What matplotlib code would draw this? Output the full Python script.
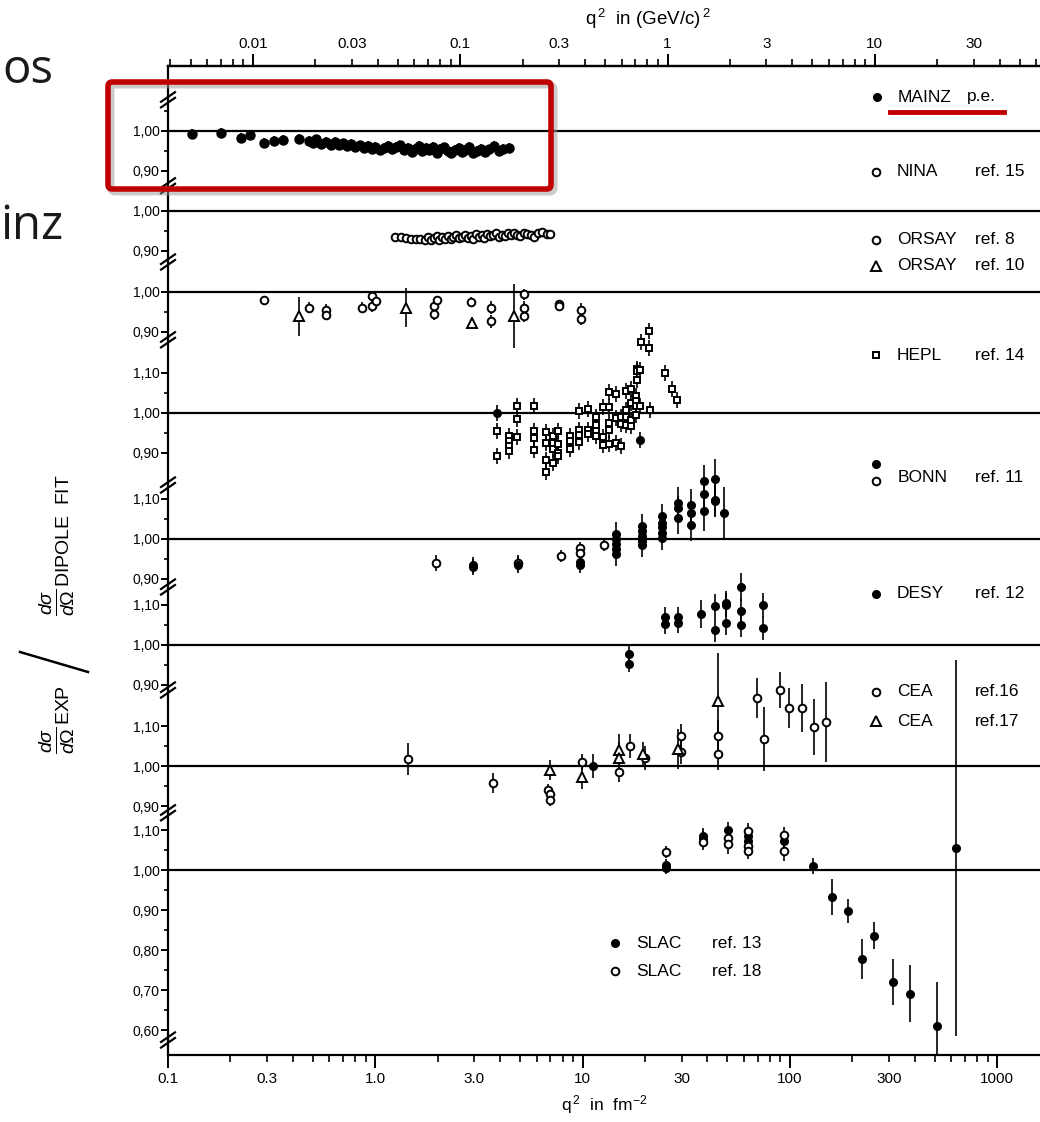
import matplotlib.pyplot as plt
import numpy as np
from matplotlib.patches import FancyBboxPatch
from matplotlib.lines import Line2D
from matplotlib.ticker import FixedLocator, FixedFormatter

plt.rcParams['font.family'] = ['Liberation Sans', 'DejaVu Sans']
plt.rcParams['mathtext.fontset'] = 'custom'
plt.rcParams['mathtext.rm'] = 'Liberation Sans'
plt.rcParams['mathtext.it'] = 'Liberation Sans:italic'

# ---- data: q^2 in fm^-2, ratio to dipole fit ----
mainz_q2 = [0.13, 0.18, 0.225, 0.25, 0.29, 0.325, 0.36, 0.43,
            0.48, 0.50, 0.52, 0.55, 0.58, 0.61, 0.64, 0.67, 0.70, 0.73, 0.76, 0.80,
            0.84, 0.88, 0.92, 0.96, 1.00, 1.05, 1.10, 1.15, 1.20, 1.26, 1.32, 1.38,
            1.44, 1.50, 1.56, 1.62, 1.68, 1.75, 1.82, 1.90, 1.98, 2.06, 2.15, 2.24,
            2.33, 2.42, 2.52, 2.62, 2.72, 2.83, 2.95, 3.08, 3.22, 3.38, 3.55, 3.75, 3.95, 4.15, 4.40]
mainz_val = [0.992, 0.995, 0.982, 0.990, 0.970, 0.976, 0.978, 0.980,
             0.975, 0.970, 0.979, 0.968, 0.973, 0.966, 0.972, 0.964, 0.969, 0.962, 0.967, 0.960,
             0.964, 0.958, 0.962, 0.955, 0.960, 0.952, 0.957, 0.962, 0.955, 0.960, 0.964, 0.952,
             0.958, 0.948, 0.956, 0.962, 0.950, 0.957, 0.953, 0.961, 0.946, 0.955, 0.959, 0.950,
             0.944, 0.953, 0.958, 0.947, 0.952, 0.960, 0.945, 0.951, 0.956, 0.948, 0.954, 0.962, 0.950, 0.955, 0.958]

nina_q2 = [1.25, 1.33, 1.41, 1.49, 1.57, 1.65, 1.73, 1.80, 1.86, 1.92, 1.98, 2.04,
           2.10, 2.17, 2.24, 2.31, 2.38, 2.46, 2.54, 2.62, 2.70, 2.79, 2.88, 2.97,
           3.06, 3.16, 3.26, 3.36, 3.47, 3.58, 3.70, 3.82, 3.95, 4.08, 4.22, 4.36,
           4.50, 4.66, 4.82, 5.00, 5.20, 5.40, 5.62, 5.85, 6.10, 6.40, 6.70, 7.00]
nina_val = [0.935, 0.934, 0.933, 0.931, 0.930, 0.929, 0.928, 0.936, 0.928, 0.933, 0.938, 0.927,
            0.935, 0.930, 0.937, 0.929, 0.934, 0.940, 0.932, 0.936, 0.941, 0.933, 0.938, 0.930,
            0.942, 0.936, 0.939, 0.933, 0.943, 0.937, 0.940, 0.946, 0.935, 0.941, 0.938, 0.944,
            0.939, 0.946, 0.941, 0.937, 0.946, 0.942, 0.939, 0.935, 0.944, 0.947, 0.943, 0.943]

orsay8_q2 = [0.29, 0.48, 0.58, 0.58, 0.86, 0.96, 0.96, 1.01, 1.92, 1.92, 1.98,
             2.90, 3.62, 3.62, 5.21, 5.21, 5.21, 7.69, 7.69, 9.83, 9.83]
orsay8_val = [0.979, 0.961, 0.956, 0.943, 0.961, 0.989, 0.964, 0.977, 0.964, 0.944, 0.979,
              0.975, 0.961, 0.927, 0.994, 0.961, 0.941, 0.969, 0.964, 0.956, 0.933]
orsay8_err = [0.012, 0.014, 0.014, 0.014, 0.014, 0.012, 0.014, 0.012, 0.014, 0.014, 0.012,
              0.012, 0.016, 0.016, 0.014, 0.016, 0.016, 0.012, 0.012, 0.016, 0.016]
orsay10_q2 = [0.43, 1.41, 2.93, 4.67]
orsay10_val = [0.939, 0.961, 0.922, 0.940]
orsay10_err = [0.048, 0.048, 0.015, 0.080]

hepl_q2 = [3.87, 3.87, 4.42, 4.42, 4.42, 4.42, 4.83, 4.83, 4.83,
           5.83, 5.83, 5.83, 5.83, 6.66, 6.66, 6.66, 6.66, 7.20, 7.20, 7.20, 7.20,
           7.61, 7.61, 7.61, 7.61, 8.69, 8.69, 8.69, 9.61, 9.61, 9.61, 9.61,
           10.6, 10.6, 10.6, 11.6, 11.6, 11.6, 11.6, 12.5, 12.5, 12.5,
           13.4, 13.4, 13.4, 13.4, 13.4, 14.5, 14.5, 14.5, 15.3, 15.3, 15.3,
           16.2, 16.2, 16.2, 16.2, 17.1, 17.1, 17.1, 17.1, 18.1, 18.1, 18.1, 18.1,
           18.3, 18.3, 18.3, 18.9, 18.9, 19.1, 20.9, 20.9, 21.1, 24.9, 27.0, 28.5]
hepl_val = [0.954, 0.892, 0.943, 0.929, 0.917, 0.904, 1.018, 0.985, 0.940,
            1.017, 0.954, 0.938, 0.908, 0.952, 0.925, 0.882, 0.852, 0.943, 0.925, 0.910, 0.875,
            0.954, 0.923, 0.900, 0.892, 0.942, 0.929, 0.910, 1.004, 0.958, 0.946, 0.927,
            1.010, 0.958, 0.948, 0.990, 0.971, 0.954, 0.942, 1.015, 0.940, 0.921,
            1.052, 1.015, 0.975, 0.958, 0.923, 1.047, 0.988, 0.925, 0.990, 0.973, 0.918,
            1.056, 1.008, 0.990, 0.971, 1.060, 1.025, 0.983, 0.967, 1.042, 1.029, 1.018, 0.996,
            1.110, 1.104, 1.082, 1.107, 1.018, 1.177, 1.204, 1.163, 1.008, 1.100, 1.061, 1.032]
hepl_fill_q2 = [3.87, 18.9]
hepl_fill_val = [1.000, 0.933]

bonn_open_q2 = [1.96, 4.88, 7.87, 9.71, 9.71, 12.7]
bonn_open_val = [0.939, 0.939, 0.957, 0.978, 0.965, 0.986]
bonn_open_err = [0.020, 0.020, 0.015, 0.015, 0.015, 0.015]
bonn_fill_q2 = [2.96, 2.96, 4.88, 9.71, 9.71,
                14.5, 14.5, 14.5, 14.5, 14.5, 19.4, 19.4, 19.4, 19.4, 19.4,
                24.2, 24.2, 24.2, 24.2, 24.2, 28.8, 28.8, 28.8, 33.3, 33.3, 33.3,
                38.5, 38.5, 38.5, 43.5, 43.5, 43.5, 48.1]
bonn_fill_val = [0.935, 0.930, 0.936, 0.943, 0.935,
                 1.012, 1.000, 0.988, 0.976, 0.963, 1.033, 1.020, 1.008, 0.996, 0.986,
                 1.057, 1.041, 1.029, 1.016, 1.002, 1.090, 1.078, 1.053, 1.086, 1.065, 1.035,
                 1.144, 1.112, 1.069, 1.149, 1.098, 1.094, 1.065]
bonn_fill_err = [0.02, 0.02, 0.02, 0.02, 0.02,
                 0.03, 0.02, 0.02, 0.02, 0.03, 0.03, 0.02, 0.02, 0.02, 0.03,
                 0.03, 0.02, 0.02, 0.02, 0.03, 0.04, 0.03, 0.04, 0.04, 0.03, 0.04,
                 0.04, 0.04, 0.05, 0.05, 0.04, 0.04, 0.065]

desy_q2 = [16.7, 16.7, 24.9, 24.9, 28.8, 28.8, 37.3, 43.5, 43.5,
           49.2, 49.2, 49.2, 58.1, 58.1, 58.1, 74.1, 74.1]
desy_val = [0.978, 0.952, 1.069, 1.053, 1.069, 1.055, 1.078, 1.098, 1.037,
            1.106, 1.100, 1.055, 1.144, 1.086, 1.049, 1.100, 1.043]
desy_err = [0.02, 0.02, 0.025, 0.025, 0.025, 0.025, 0.035, 0.03, 0.03,
            0.03, 0.03, 0.03, 0.035, 0.03, 0.03, 0.03, 0.03]

cea16_q2 = [1.44, 3.70, 6.81, 6.96, 6.96, 9.93, 15.0, 16.9, 20.0, 29.8,
            29.8, 45.0, 45.0, 69.4, 75.0, 89.6, 99.0, 114, 131, 149]
cea16_val = [1.017, 0.958, 0.941, 0.929, 0.915, 1.011, 0.984, 1.051, 1.019, 1.076,
             1.035, 1.074, 1.029, 1.171, 1.067, 1.191, 1.145, 1.146, 1.098, 1.110]
cea16_err = [0.04, 0.025, 0.015, 0.015, 0.015, 0.02, 0.025, 0.03, 0.03, 0.03,
             0.03, 0.04, 0.04, 0.05, 0.08, 0.045, 0.05, 0.06, 0.07, 0.10]
cea17_q2 = [6.96, 9.93, 15.0, 15.0, 19.6, 28.8, 45.0]
cea17_val = [0.989, 0.972, 1.041, 1.021, 1.029, 1.043, 1.163]
cea17_err = [0.025, 0.03, 0.04, 0.04, 0.03, 0.05, 0.12]
cea_fill_q2 = [11.2]
cea_fill_val = [1.000]

slac13_q2 = [25.3, 25.3, 37.9, 37.9, 50.3, 62.8, 62.8, 93.7, 129, 160, 191, 223, 255, 314, 379, 513, 632]
slac13_val = [1.012, 1.006, 1.084, 1.077, 1.100, 1.086, 1.073, 1.073, 1.010, 0.933, 0.897,
              0.777, 0.836, 0.720, 0.691, 0.611, 1.056]
slac13_err = [0.015, 0.015, 0.02, 0.02, 0.02, 0.02, 0.02, 0.02, 0.02, 0.045, 0.03,
              0.05, 0.033, 0.057, 0.072, 0.11, 0.47]
slac18_q2 = [25.3, 37.9, 50.3, 50.3, 62.8, 62.8, 62.8, 93.7, 93.7]
slac18_val = [1.044, 1.069, 1.081, 1.065, 1.097, 1.060, 1.048, 1.087, 1.048]
slac18_err = [0.015, 0.02, 0.025, 0.025, 0.02, 0.02, 0.02, 0.02, 0.025]

# y ticks for every panel
panel_ticks = {
    'MAINZ': [1.0, 0.9], 'NINA': [1.0, 0.9], 'ORSAY': [1.0, 0.9],
    'HEPL': [1.1, 1.0, 0.9], 'BONN': [1.1, 1.0, 0.9], 'DESY': [1.1, 1.0, 0.9],
    'CEA': [1.1, 1.0, 0.9], 'SLAC': [1.1, 1.0, 0.9, 0.8, 0.7, 0.6]}
panel_minor = {
    'MAINZ': [1.05, 0.95], 'NINA': [0.95], 'ORSAY': [0.95],
    'HEPL': [1.05, 0.95], 'BONN': [1.05, 0.95], 'DESY': [1.05, 0.95],
    'CEA': [1.05, 0.95], 'SLAC': [1.05, 0.95, 0.85, 0.75, 0.65]}

# ---- layout ----
W, H = 1040, 1122
# where each panel sits on the common vertical axis (SLAC panel not shifted)
shift = {'MAINZ': 1.8475, 'NINA': 1.6475, 'ORSAY': 1.445, 'HEPL': 1.1425,
         'BONN': 0.8275, 'DESY': 0.5625, 'CEA': 0.26, 'SLAC': 0.0}
breaks = [('MAINZ', 1.078), ('NINA', 1.063), ('ORSAY', 1.075), ('HEPL', 1.183),
          ('BONN', 1.135), ('DESY', 1.145), ('CEA', 1.19), ('SLAC', 1.143), ('SLAC', 0.575)]
GEV2 = 25.68  # fm^-2 per (GeV/c)^2


def fx(px):
    return px / W


def fy(py):
    return 1 - py / H


fig = plt.figure(figsize=(W / 100, H / 100), dpi=100)
ax = fig.add_axes([fx(168), fy(1055), fx(1040) - fx(168), fy(66) - fy(1055)])
ax.set_xscale('log')
ax.set_xlim(0.1, 10 ** (-1 + (1040 - 168) / 207.3))
ax.set_ylim(0.5375, 3.01)
ax.spines['right'].set_visible(False)
for s in ['left', 'bottom', 'top']:
    ax.spines[s].set_linewidth(1.6)

for p in shift:
    ax.axhline(1.0 + shift[p], color='k', lw=1.6, zorder=1)

filled = dict(marker='o', ms=5.5, mfc='k', mec='k', mew=1)
ocirc = dict(marker='o', ms=5.5, mfc='white', mec='k', mew=1.4)
otri = dict(marker='^', ms=6.5, mfc='white', mec='k', mew=1.4)
osq = dict(marker='s', ms=5, mfc='white', mec='k', mew=1.4)


def put(q2, val, err, panel, style):
    y = np.asarray(val) + shift[panel]
    if err is not None:
        ax.errorbar(q2, y, yerr=err, fmt='none', ecolor='k', elinewidth=1.2, capsize=0, zorder=2)
    ax.plot(q2, y, linestyle='none', zorder=3, **style)


put(mainz_q2, mainz_val, 0.012, 'MAINZ', dict(filled, ms=6.5))
put(nina_q2, nina_val, None, 'NINA', ocirc)
put(orsay8_q2, orsay8_val, orsay8_err, 'ORSAY', ocirc)
put(orsay10_q2, orsay10_val, orsay10_err, 'ORSAY', otri)
put(hepl_q2, hepl_val, 0.02, 'HEPL', osq)
put(hepl_fill_q2, hepl_fill_val, 0.02, 'HEPL', filled)
put(bonn_open_q2, bonn_open_val, bonn_open_err, 'BONN', ocirc)
put(bonn_fill_q2, bonn_fill_val, bonn_fill_err, 'BONN', filled)
put(desy_q2, desy_val, desy_err, 'DESY', filled)
put(cea16_q2, cea16_val, cea16_err, 'CEA', ocirc)
put(cea17_q2, cea17_val, cea17_err, 'CEA', otri)
put(cea_fill_q2, cea_fill_val, 0.03, 'CEA', filled)
put(slac13_q2, slac13_val, slac13_err, 'SLAC', filled)
put(slac18_q2, slac18_val, slac18_err, 'SLAC', ocirc)

# left axis ticks
ypos, ylab, ymin = [], [], []
for p in panel_ticks:
    for t in panel_ticks[p]:
        ypos.append(t + shift[p])
        ylab.append(f'{t:.2f}'.replace('.', ','))
    for t in panel_minor[p]:
        ymin.append(t + shift[p])
ax.yaxis.set_major_locator(FixedLocator(ypos))
ax.yaxis.set_major_formatter(FixedFormatter(ylab))
ax.yaxis.set_minor_locator(FixedLocator(ymin))
ax.tick_params(axis='y', which='major', direction='out', length=5, width=1.4, labelsize=10, pad=1)
ax.tick_params(axis='y', which='minor', direction='out', length=3, width=1.2)

# bottom axis ticks
dec = [0.1, 1, 10, 100, 1000]
ax.xaxis.set_major_locator(FixedLocator(dec))
ax.xaxis.set_major_formatter(FixedFormatter(['0.1', '1.0', '10', '100', '1000']))
bmin = [m * d for d in dec for m in range(2, 10)]
ax.xaxis.set_minor_locator(FixedLocator(bmin))
ax.xaxis.set_minor_formatter(FixedFormatter(
    [{0.3: '0.3', 3: '3.0', 30: '30', 300: '300'}.get(round(v, 6), '') for v in bmin]))
ax.tick_params(axis='x', which='major', direction='out', length=9, width=1.4, labelsize=11, pad=3)
ax.tick_params(axis='x', which='minor', direction='out', length=5, width=1.2, labelsize=11, pad=7)
ax.set_xlabel(r'q$^{\,2}$  in  fm$^{-2}$', fontsize=12.5, labelpad=5)

# top axis in (GeV/c)^2
top = ax.secondary_xaxis('top', functions=(lambda q: q / GEV2, lambda g: g * GEV2))
tdec = [0.001, 0.01, 0.1, 1, 10]
top.xaxis.set_major_locator(FixedLocator([0.01, 0.1, 1, 10]))
top.xaxis.set_major_formatter(FixedFormatter(['0.01', '0.1', '1', '10']))
tmin = [m * d for d in tdec for m in range(2, 10)]
top.xaxis.set_minor_locator(FixedLocator(tmin))
top.xaxis.set_minor_formatter(FixedFormatter(
    [{0.03: '0.03', 0.3: '0.3', 3: '3', 30: '30'}.get(round(v, 6), '') for v in tmin]))
top.tick_params(which='major', direction='out', length=9, width=1.4, labelsize=11, pad=2)
top.tick_params(which='minor', direction='out', length=5, width=1.2, labelsize=11, pad=6)
top.spines['top'].set_linewidth(1.6)
fig.text(fx(648), fy(19), r'q$^{\,2}$  in (GeV/c)$^{\,2}$', fontsize=13.5, ha='center', va='center')

# axis break marks on the left spine
ytr = ax.get_yaxis_transform()
for p, v in breaks:
    y0 = v + shift[p]
    for d in (-0.007, 0.007):
        ax.plot([-0.008, 0.008], [y0 + d - 0.012, y0 + d + 0.012], transform=ytr,
                color='k', lw=1.6, clip_on=False, zorder=5)

# y label
fig.text(fx(57), fy(720), r'$\frac{d\sigma}{d\Omega}_{\mathrm{EXP}}$', rotation=90,
         fontsize=20, ha='center', va='center')
fig.text(fx(57), fy(545), r'$\frac{d\sigma}{d\Omega}_{\mathrm{DIPOLE\ \ FIT}}$', rotation=90,
         fontsize=20, ha='center', va='center')
fig.add_artist(Line2D([fx(20), fx(88)], [fy(652), fy(672)], color='k', lw=1.8))

# legends: marker x, y, style, name, reference, x of reference text
leg_rows = [
    (877, 97, filled, 'MAINZ', 'p.e.', 967),
    (876, 172, ocirc, 'NINA', 'ref. 15', 975),
    (876, 240, ocirc, 'ORSAY', 'ref. 8', 975),
    (876, 266, otri, 'ORSAY', 'ref. 10', 975),
    (876, 355, osq, 'HEPL', 'ref. 14', 975),
    (876, 594, filled, 'DESY', 'ref. 12', 975),
    (876, 692, ocirc, 'CEA', 'ref.16', 975),
    (876, 721, otri, 'CEA', 'ref.17', 975),
    (615, 943, filled, 'SLAC', 'ref. 13', 712),
    (615, 971, ocirc, 'SLAC', 'ref. 18', 712),
]
for mx, my, st, name, ref, rx in leg_rows:
    fig.add_artist(Line2D([fx(mx)], [fy(my)], linestyle='none', **st))
    fig.text(fx(mx + 21), fy(my), name, fontsize=12.5, va='center')
    fig.text(fx(rx), fy(my), ref, fontsize=12.5, va='center')
fig.add_artist(Line2D([fx(876)], [fy(464)], linestyle='none', **filled))
fig.add_artist(Line2D([fx(876)], [fy(481)], linestyle='none', **ocirc))
fig.text(fx(898), fy(478), 'BONN', fontsize=12.5, va='center')
fig.text(fx(975), fy(478), 'ref. 11', fontsize=12.5, va='center')

# slide overlay: cut-off words, red frame and underline
fig.text(0.002, fy(70), 'os', fontsize=34, family='Open Sans', color='#1a1a1a', va='center')
fig.text(0.0, fy(226), 'inz', fontsize=34, family='Open Sans', color='#1a1a1a', va='center')
shadow = FancyBboxPatch((fx(111), fy(192)), fx(551) - fx(108), fy(82) - fy(189),
                        boxstyle='round,pad=0,rounding_size=0.004', transform=fig.transFigure,
                        fill=False, ec='#999999', lw=5, alpha=0.5)
frame = FancyBboxPatch((fx(108), fy(189)), fx(551) - fx(108), fy(82) - fy(189),
                       boxstyle='round,pad=0,rounding_size=0.004', transform=fig.transFigure,
                       fill=False, ec='#c00000', lw=4)
fig.add_artist(shadow)
fig.add_artist(frame)
fig.add_artist(Line2D([fx(890), fx(1004)], [fy(112), fy(112)], color='#c00000', lw=3.5))

fig.savefig('out.png', dpi=100)
